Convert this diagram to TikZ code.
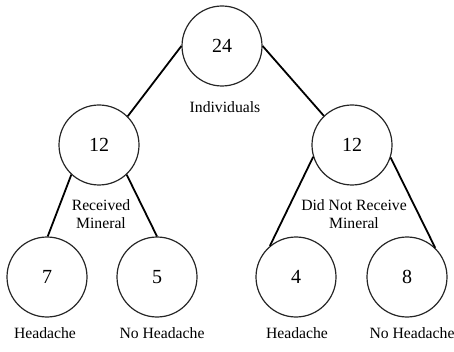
\documentclass[tikz,border=0pt]{standalone}
\usepackage{fontspec}
\setmainfont{Liberation Serif}
\begin{document}
\begin{tikzpicture}[x=1pt,y=-1pt,
  numcircle/.style={draw=black!85, line width=1.2pt, circle, minimum size=80pt, inner sep=0pt, font=\fontsize{20}{24}\selectfont},
  conn/.style={draw=black, line width=1.8pt},
  lbl/.style={font=\fontsize{15.7}{18}\selectfont, align=center, inner sep=0pt}]
\useasboundingbox (0,0) rectangle (454,352);
\node[numcircle] (top) at (222,46) {\raisebox{-3pt}{24}};
\node[numcircle] (L) at (99,145) {\raisebox{-4pt}{12}};
\node[numcircle] (R) at (352,145) {\raisebox{-4pt}{12}};
\node[numcircle] (a) at (47,277) {\raisebox{-4pt}{7}};
\node[numcircle] (b) at (157,277) {\raisebox{-4pt}{5}};
\node[numcircle] (c) at (296,277) {\raisebox{-4pt}{4}};
\node[numcircle] (d) at (407,277) {\raisebox{-4pt}{8}};
\draw[conn] (top.180) -- (L.45);
\draw[conn] (top.0) -- (R.134);
\draw[conn] (L.-133) -- (a.89);
\draw[conn] (L.-47) -- (b.90);
\draw[conn] (R.197) -- (c.130);
\draw[conn] (R.-18) -- (d.46);
\node[lbl] (ind) at (225,107) {Individuals};
\node[lbl] (rm) at (101,214) {Received\\Mineral};
\node[lbl] (dnr) at (354,214) {Did Not Receive\\Mineral};
\node[lbl] (h1) at (45,333) {Headache};
\node[lbl] (n1) at (162,333) {No Headache};
\node[lbl] (h2) at (297,333) {Headache};
\node[lbl] (n2) at (412,333) {No Headache};
\end{tikzpicture}
\end{document}
